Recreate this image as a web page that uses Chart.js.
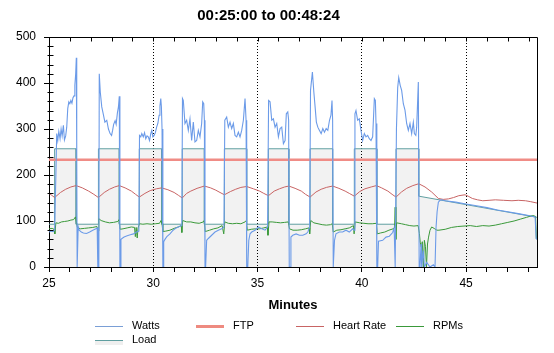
<!DOCTYPE html>
<html>
<head>
<meta charset="utf-8">
<script src="https://cdn.jsdelivr.net/npm/chart.js"></script>
<style>
  body { margin: 0; background: #fff; }
  #wrap { position: relative; width: 554px; height: 353px; }
  .lg { position: absolute; height: 0; }
  .lg i { position: absolute; left: 0; width: 28px; top: 0; height: 1px; }
  .lg b { position: absolute; left: 0; width: 28px; top: 1px; height: 4px; background: #efefef; }
  .lg span { position: absolute; left: 37px; top: -7px; font: 11px "Liberation Sans", Arial, sans-serif; line-height: 13px; white-space: nowrap; color: #000; }
</style>
</head>
<body>
<div id="wrap">
  <canvas id="chart" width="554" height="353"></canvas>
  <div class="lg" style="left:95px;top:326px"><i style="background:#7a9fd6"></i><span>Watts</span></div>
  <div class="lg" style="left:196px;top:326px"><i style="background:#ee8a80;height:3px;top:-1px"></i><span>FTP</span></div>
  <div class="lg" style="left:296px;top:326px"><i style="background:#c86464"></i><span>Heart Rate</span></div>
  <div class="lg" style="left:396px;top:326px"><i style="background:#3a993a"></i><span>RPMs</span></div>
  <div class="lg" style="left:95px;top:340px"><i style="background:#5f9ea0"></i><b></b><span>Load</span></div>
</div>
<script>
// [minute, value] pairs
const watts = [
  [25.0,76],[25.1,78],[25.2,77],[25.27,80],[25.33,200],[25.37,290],[25.42,275],[25.47,295],[25.53,279],[25.58,300],[25.63,285],[25.69,308],[25.74,276],[25.8,285],[25.85,304],[25.9,345],[25.95,359],[26.0,355],[26.05,362],[26.1,356],[26.15,368],[26.2,372],[26.24,395],[26.28,420],[26.31,455],[26.33,250],[26.35,0],
  [26.38,0],[26.4,88],[26.45,80],[26.55,76],[26.65,74],[26.8,73],[26.95,76],[27.1,80],[27.25,83],[27.31,85],[27.34,0],[27.39,0],
  [27.41,420],[27.46,380],[27.53,348],[27.6,333],[27.68,315],[27.77,319],[27.85,300],[27.93,290],[28.0,286],[28.05,297],[28.1,310],[28.17,318],[28.22,310],[28.28,335],[28.33,348],[28.37,371],[28.4,0],
  [28.43,0],[28.45,60],[28.5,62],[28.6,65],[28.75,68],[28.9,70],[29.05,72],[29.2,76],[29.31,78],
  [29.34,286],[29.4,283],[29.45,290],[29.52,283],[29.58,292],[29.64,279],[29.7,285],[29.76,283],[29.82,275],[29.88,290],[29.93,297],[29.98,283],[30.04,286],[30.1,292],[30.16,304],[30.22,312],[30.28,330],[30.32,350],[30.36,366],[30.39,348],[30.42,300],[30.46,0],
  [30.49,0],[30.5,55],[30.56,60],[30.65,66],[30.8,72],[30.95,80],[31.1,85],[31.25,88],[31.37,90],
  [31.4,366],[31.44,362],[31.52,312],[31.6,319],[31.68,297],[31.76,322],[31.84,275],[31.92,315],[32.0,272],[32.08,275],[32.16,297],[32.24,283],[32.32,312],[32.37,359],[32.42,355],[32.45,319],[32.48,0],
  [32.51,0],[32.56,58],[32.64,62],[32.8,69],[32.96,76],[33.12,80],[33.28,83],[33.39,87],
  [33.43,319],[33.52,326],[33.6,304],[33.68,315],[33.76,301],[33.84,312],[33.92,286],[34.0,283],[34.08,293],[34.16,283],[34.24,297],[34.32,319],[34.4,366],[34.45,319],[34.48,0],
  [34.53,0],[34.58,58],[34.64,72],[34.72,76],[34.88,80],[35.04,87],[35.2,83],[35.36,80],[35.48,87],
  [35.53,362],[35.6,359],[35.68,319],[35.76,322],[35.84,304],[35.92,312],[36.0,283],[36.08,301],[36.16,304],[36.24,268],[36.32,275],[36.38,333],[36.45,337],[36.49,320],[36.52,0],
  [36.56,0],[36.6,65],[36.69,69],[36.85,72],[37.01,69],[37.17,69],[37.33,72],[37.41,76],[37.5,87],
  [37.54,384],[37.63,424],[37.7,380],[37.76,348],[37.82,315],[37.89,304],[37.97,297],[38.05,290],[38.13,301],[38.21,293],[38.29,301],[38.37,297],[38.45,319],[38.52,330],[38.57,362],[38.6,319],[38.63,0],
  [38.66,0],[38.69,58],[38.76,72],[38.92,76],[39.08,76],[39.24,80],[39.4,76],[39.56,83],[39.63,80],
  [39.67,333],[39.72,340],[39.8,319],[39.88,322],[39.96,297],[40.04,275],[40.12,290],[40.2,283],[40.28,286],[40.36,279],[40.44,275],[40.52,283],[40.6,366],[40.65,362],[40.68,312],[40.72,0],
  [40.76,0],[40.8,56],[41.0,58],[41.16,65],[41.32,67],[41.48,75],[41.55,85],[41.6,0],[41.63,0],
  [41.66,300],[41.72,390],[41.77,412],[41.84,395],[41.91,384],[41.99,355],[42.07,341],[42.15,312],[42.23,297],[42.31,312],[42.39,290],[42.47,315],[42.52,290],[42.59,286],[42.63,304],[42.71,402],[42.75,0],
  [42.79,0],[42.84,50],[42.87,0],[42.95,36],[43.0,0],[43.11,10],[43.27,0],[43.43,5],[43.51,0],[43.56,87],[43.61,120],[43.67,141],[43.75,145],[43.83,146],[44.0,144],[44.5,141],[45.0,137],[45.5,133],[46.0,129],[46.5,124],[47.0,120],[47.5,116],[48.0,112],[48.31,109],[48.36,62],[48.4,60]
];

const ftp = [[25,233],[48.4,233]];

const heartRate = [
  [25.0,160],[25.1,157],[25.27,151],[25.55,162],[25.8,169],[26.05,174],[26.3,177],[26.6,172],[26.9,165],[27.15,158],[27.37,151],
  [27.65,162],[27.9,169],[28.15,174],[28.37,177],[28.65,172],[28.95,165],[29.15,158],[29.33,152],
  [29.6,160],[29.85,166],[30.15,170],[30.4,172],[30.7,168],[31.0,162],[31.2,156],[31.39,150],
  [31.6,160],[31.8,165],[32.1,171],[32.45,176],[32.75,172],[33.0,167],[33.2,162],[33.41,157],
  [33.7,164],[33.95,169],[34.2,173],[34.48,175],[34.8,170],[35.1,165],[35.3,160],[35.52,155],
  [35.8,165],[36.05,170],[36.3,174],[36.5,176],[36.8,171],[37.1,165],[37.3,158],[37.52,152],
  [37.8,163],[38.05,169],[38.3,173],[38.6,176],[38.9,171],[39.2,165],[39.4,160],[39.64,154],
  [39.9,164],[40.15,170],[40.45,174],[40.7,177],[40.95,172],[41.25,165],[41.45,158],[41.64,152],
  [41.9,163],[42.15,171],[42.45,177],[42.73,181],[43.03,174],[43.35,163],[43.67,149],[43.9,147],
  [44.15,148],[44.4,151],[44.65,155],[44.95,157],[45.1,154],[45.3,149],[45.55,146],[45.8,144],
  [46.1,145],[46.4,146],[46.8,145],[47.2,144],[47.5,145],[47.85,144],[48.1,142],[48.4,139]
];

const rpms = [
  [25.0,83],[25.15,84],[25.24,82],[25.28,72],[25.33,96],[25.45,95],[25.6,98],[25.75,99],[25.9,100],[26.05,102],[26.18,103],[26.27,109],[26.31,98],
  [26.36,86],[26.5,83],[26.7,84],[26.9,85],[27.1,86],[27.3,88],[27.35,78],
  [27.39,105],[27.5,101],[27.7,98],[27.9,96],[28.1,97],[28.3,99],[28.36,103],
  [28.41,82],[28.55,83],[28.75,85],[28.95,87],[29.1,86],[29.14,66],[29.18,86],[29.23,63],[29.27,85],
  [29.34,94],[29.5,93],[29.7,94],[29.9,93],[30.1,94],[30.3,95],[30.37,101],[30.42,94],
  [30.46,77],[30.6,78],[30.8,80],[31.0,84],[31.2,87],[31.34,90],[31.37,75],
  [31.41,101],[31.6,98],[31.8,98],[32.0,96],[32.2,95],[32.4,98],[32.44,101],
  [32.49,77],[32.7,80],[32.9,83],[33.1,85],[33.3,90],[33.38,72],
  [33.43,98],[33.6,95],[33.8,94],[34.0,95],[34.2,94],[34.4,98],[34.46,101],
  [34.51,80],[34.7,82],[34.9,83],[35.1,83],[35.3,85],[35.47,87],[35.5,69],
  [35.55,98],[35.7,98],[35.9,97],[36.1,96],[36.3,97],[36.47,98],
  [36.53,83],[36.7,80],[36.9,80],[37.1,81],[37.3,83],[37.47,85],[37.5,72],
  [37.55,101],[37.7,96],[37.9,94],[38.1,92],[38.3,91],[38.5,92],[38.58,94],
  [38.63,76],[38.8,80],[39.0,81],[39.2,83],[39.4,85],[39.6,90],[39.63,72],
  [39.68,98],[39.9,96],[40.1,95],[40.3,94],[40.5,94],[40.7,95],
  [40.74,72],[40.9,74],[41.1,76],[41.3,80],[41.5,83],[41.57,85],[41.6,130],[41.63,60],
  [41.67,96],[41.9,94],[42.1,92],[42.3,90],[42.5,89],[42.7,90],
  [42.76,73],[42.8,54],[42.85,43],[42.9,55],[42.95,0],[43.0,58],[43.05,45],[43.1,0],[43.15,50],[43.2,65],[43.27,80],[43.35,87],[43.5,83],[43.6,80],
  [43.7,80],[44.0,82],[44.3,86],[44.6,88],[44.9,89],[45.2,90],[45.5,88],[45.8,90],[46.1,89],[46.4,91],[46.7,94],[47.0,97],[47.3,100],[47.6,104],[47.9,108],[48.2,112],[48.33,110],[48.37,62],[48.4,60]
];

const load = [
  [25,93],[25.27,93],[25.27,257],[26.3,257],[26.3,93],[27.37,93],[27.37,257],[28.37,257],[28.37,93],
  [29.33,93],[29.33,257],[30.4,257],[30.4,93],[31.39,93],[31.39,257],[32.45,257],[32.45,93],
  [33.41,93],[33.41,257],[34.48,257],[34.48,93],[35.52,93],[35.52,257],[36.5,257],[36.5,93],
  [37.52,93],[37.52,257],[38.6,257],[38.6,93],[39.64,93],[39.64,257],[40.72,257],[40.72,93],
  [41.64,93],[41.64,257],[42.73,257],[42.73,154],[48.4,108]
];

const xMin = 25, xMax = 48.4;
const yMin = 0, yMax = 500;
const chartTitle = '00:25:00 to 00:48:24';

const pts = arr => arr.map(([x, y]) => ({ x, y }));
const FONT = '"Liberation Sans", Arial, sans-serif';

// top/right frame and the small inner ticks
const frame = {
  id: 'frame',
  afterDraw(chart) {
    const { ctx, chartArea: a, scales: { x, y } } = chart;
    const left = Math.round(a.left) + 0.5, top = Math.round(a.top) + 0.5;
    const right = Math.round(a.right) + 0.5, bottom = Math.round(a.bottom) + 0.5;
    ctx.save();
    ctx.strokeStyle = '#000';
    ctx.lineWidth = 1;
    ctx.beginPath();
    ctx.moveTo(left, top); ctx.lineTo(right, top); ctx.lineTo(right, bottom);
    for (let m = Math.ceil(xMin) + 1; m <= xMax; m++) {
      const px = Math.round(x.getPixelForValue(m)) + 0.5;
      ctx.moveTo(px, top); ctx.lineTo(px, top + 4);
    }
    for (let v = yMin + 20; v < yMax; v += 20) {
      const py = Math.round(y.getPixelForValue(v)) + 0.5;
      ctx.moveTo(left - 2, py); ctx.lineTo(left + 4, py);
    }
    ctx.stroke();
    ctx.restore();
  }
};

Chart.defaults.color = '#000';
Chart.defaults.font.family = FONT;

new Chart(document.getElementById('chart'), {
  type: 'line',
  data: {
    datasets: [
      { label: 'Watts', data: pts(watts), borderColor: '#6c9be8', borderWidth: 1.1, order: 1 },
      { label: 'FTP', data: pts(ftp), borderColor: '#f08c86', borderWidth: 2.4, order: 4 },
      { label: 'Heart Rate', data: pts(heartRate), borderColor: '#c86464', borderWidth: 1, order: 2 },
      { label: 'RPMs', data: pts(rpms), borderColor: '#3a993a', borderWidth: 1, order: 3 },
      { label: 'Load', data: pts(load), borderColor: '#5f9ea0', borderWidth: 1, fill: 'origin',
        backgroundColor: 'rgba(0,0,0,0.05)', order: 5 }
    ]
  },
  options: {
    responsive: false,
    animation: false,
    layout: { padding: { top: 0, right: 17, bottom: 40, left: 0 } },
    elements: { point: { radius: 0 }, line: { tension: 0 } },
    plugins: {
      legend: { display: false },
      tooltip: { enabled: false },
      title: {
        display: true, text: chartTitle, color: '#000',
        font: { family: FONT, size: 15, weight: 'bold' },
        padding: { top: 7, bottom: 12 }
      }
    },
    scales: {
      x: {
        type: 'linear', min: xMin, max: xMax,
        afterFit: s => { s.height = 46; },
        ticks: {
          stepSize: 1, includeBounds: false, autoSkip: false, maxRotation: 0, padding: 4,
          font: { family: FONT, size: 12 },
          callback: v => (v % 5 === 0 ? v : '')
        },
        grid: {
          drawOnChartArea: true, lineWidth: 1, tickLength: 5, tickColor: '#000',
          color: c => (c.tick && c.tick.value % 5 === 0 && c.tick.value > xMin) ? '#000' : 'rgba(0,0,0,0)'
        },
        border: { color: '#000', width: 1, dash: [1, 2] },
        title: { display: true, text: 'Minutes', font: { family: FONT, size: 13, weight: 'bold' }, padding: 0 }
      },
      y: {
        min: yMin, max: yMax,
        afterFit: s => { s.width = 49; },
        ticks: {
          stepSize: 20, autoSkip: false, padding: 8,
          font: { family: FONT, size: 12 },
          callback: v => (v % 100 === 0 ? v : '')
        },
        grid: {
          drawOnChartArea: false, tickLength: 5,
          tickColor: c => (c.tick && c.tick.value % 100 === 0) ? '#000' : 'rgba(0,0,0,0)'
        },
        border: { color: '#000', width: 1 }
      }
    }
  },
  plugins: [frame]
});
</script>
</body>
</html>
